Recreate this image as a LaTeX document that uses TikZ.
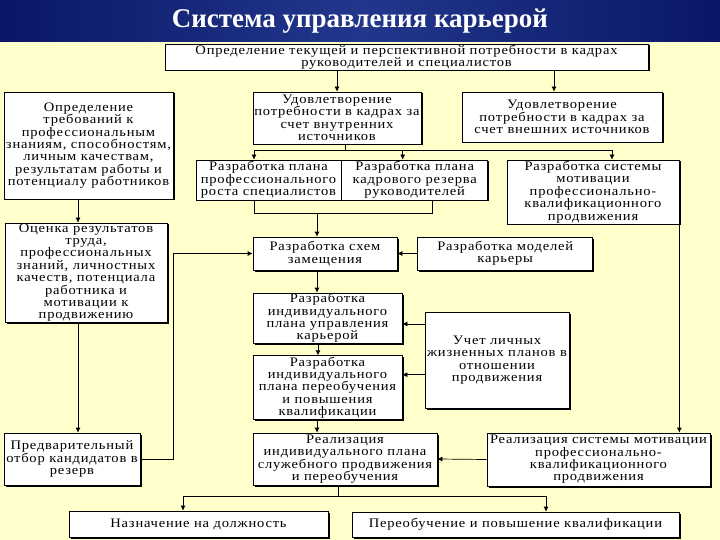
\documentclass[tikz,border=0pt]{standalone}
\usepackage{fontspec}
\setmainfont{Liberation Serif}
\newfontfamily\boxfont[LetterSpace=6, FakeStretch=1.12]{Liberation Serif}
\usetikzlibrary{arrows.meta,positioning,calc,shadows}
\definecolor{navy}{HTML}{0A1766}
\definecolor{navylight}{HTML}{22378C}
\definecolor{pale}{HTML}{FFFFCC}

\begin{document}
\begin{tikzpicture}[x=1pt, y=-1pt,
  box/.style={draw, fill=white, line width=0.7pt, align=center, inner sep=0pt,
              font=\boxfont\fontsize{13}{12.4}\selectfont,
              drop shadow={shadow xshift=1.5pt, shadow yshift=-1.5pt, fill=black, opacity=1}},
  wh/.style 2 args={minimum width=#1pt, minimum height=#2pt},
  arr/.style={-{Latex[length=5pt,width=5pt]}, line width=0.7pt}]
  \useasboundingbox (0,0) rectangle (720,540);
  \fill[pale] (0,42) rectangle (720,540);
  \shade[left color=navy, right color=navy, middle color=navylight] (0,0) rectangle (720,42);
  \node[text=white, font=\fontsize{27}{27}\selectfont\bfseries] (title) at (360,21)
    {Система управления карьерой};
  \node[box, wh={483}{26}] (need) at (406.5,57)
    {Определение текущей и перспективной потребности в кадрах\\руководителей и специалистов};
  \node[box, wh={169}{107}] (req) at (88.5,145.5)
    {Определение\\требований к\\профессиональным\\знаниям, способностям,\\личным качествам,\\результатам работы и\\потенциалу работников};
  \node[box, wh={168}{52}] (inner) at (337,118)
    {Удовлетворение\\потребности в кадрах за\\счет внутренних\\источников};
  \node[box, wh={200}{50}] (outer) at (562,117)
    {Удовлетворение\\потребности в кадрах за\\счет внешних источников};
  \node[box, wh={145}{40}] (prof) at (268.5,180)
    {Разработка плана\\профессионального\\роста специалистов};
  \node[box, wh={146}{40}, right=0pt of prof] (reserve)
    {Разработка плана\\кадрового резерва\\руководителей};
  \node[box, wh={172}{64}] (mot) at (593,192)
    {Разработка системы\\мотивации\\профессионально-\\квалификационного\\продвижения};
  \node[box, wh={162}{99}] (eval) at (86,272.5)
    {Оценка результатов\\труда,\\профессиональных\\знаний, личностных\\качеств, потенциала\\работника и\\мотивации к\\продвижению};
  \node[box, wh={144}{33}] (schem) at (325,253.5)
    {Разработка схем\\замещения};
  \node[box, wh={175}{33}, right=20pt of schem] (models)
    {Разработка моделей\\карьеры};
  \node[box, wh={149}{50}] (career) at (327.5,318)
    {Разработка\\индивидуального\\плана управления\\карьерой};
  \node[box, wh={149}{64}, below=12pt of career] (retrain)
    {Разработка\\индивидуального\\плана переобучения\\и повышения\\квалификации};
  \node[box, wh={144}{96}] (life) at (497,360)
    {Учет личных\\жизненных планов в\\отношении\\продвижения};
  \node[box, wh={136}{52}] (prel) at (72,459)
    {Предварительный\\отбор кандидатов в\\резерв};
  \node[box, wh={184}{52}] (realInd) at (345,459)
    {Реализация\\индивидуального плана\\служебного продвижения\\и переобучения};
  \node[box, wh={223}{53}] (realMot) at (598.5,459.5)
    {Реализация системы мотивации\\профессионально-\\квалификационного\\продвижения};
  \node[box, wh={259}{26}] (appoint) at (198.5,524) {Назначение на должность};
  \node[box, wh={327}{25}] (upgrade) at (515.5,524.5) {Переобучение и повышение квалификации};
  \coordinate (bus1) at (345,150);
  \coordinate (bus2) at (317,213);
  \coordinate (bus3) at (338,496);
  \draw[arr] (inner.north |- need.south) -- (inner.north);
  \draw[arr] ([xshift=-8pt]outer.north |- need.south) -- ([xshift=-8pt]outer.north);
  \draw[arr] ([xshift=-8pt]eval.north |- req.south) -- ([xshift=-8pt]eval.north);
  \draw ([xshift=8pt]inner.south) -- (bus1);
  \draw[arr] (bus1) -| ([xshift=-14.5pt]prof.north);
  \draw[arr] (bus1) -| ([xshift=-12pt]reserve.north);
  \draw[arr] (bus1) -| ([xshift=19pt]mot.north);
  \draw ([xshift=-14.5pt]prof.south) |- (bus2); \draw ([xshift=17pt]reserve.south) |- (bus2);
  \draw[arr] (bus2) -- (bus2 |- schem.north);
  \draw[arr] (models.west) -- (schem.east);
  \draw[arr] (prel.east) -- ++(33,0) |- (schem.west);
  \draw[arr] ([xshift=-8pt]eval.south) -- ([xshift=-8pt]eval.south |- prel.north);
  \draw[arr] ([xshift=-8pt]schem.south) -- ([xshift=-8pt]schem.south |- career.north);
  \draw[arr] ([xshift=-9.5pt]career.south) -- ([xshift=-9.5pt]career.south |- retrain.north);
  \draw[arr] ([yshift=-6pt]career.east -| life.west) -- ([yshift=-6pt]career.east);
  \draw[arr] ([yshift=13pt]retrain.east -| life.west) -- ([yshift=13pt]retrain.east);
  \draw[arr] ([xshift=-10.5pt]retrain.south) -- ([xshift=-10.5pt]retrain.south |- realInd.north);
  \draw[arr] (mot.south east) -- (mot.south east |- realMot.north);
  \draw[arr] (realMot.west) -- (realInd.east);
  \draw ([xshift=-7pt]realInd.south) -- (bus3);
  \draw[arr] (bus3) -| ([xshift=-15.5pt]appoint.north);
  \draw[arr] (bus3) -| ([xshift=30.5pt]upgrade.north);
\end{tikzpicture}
\end{document}
